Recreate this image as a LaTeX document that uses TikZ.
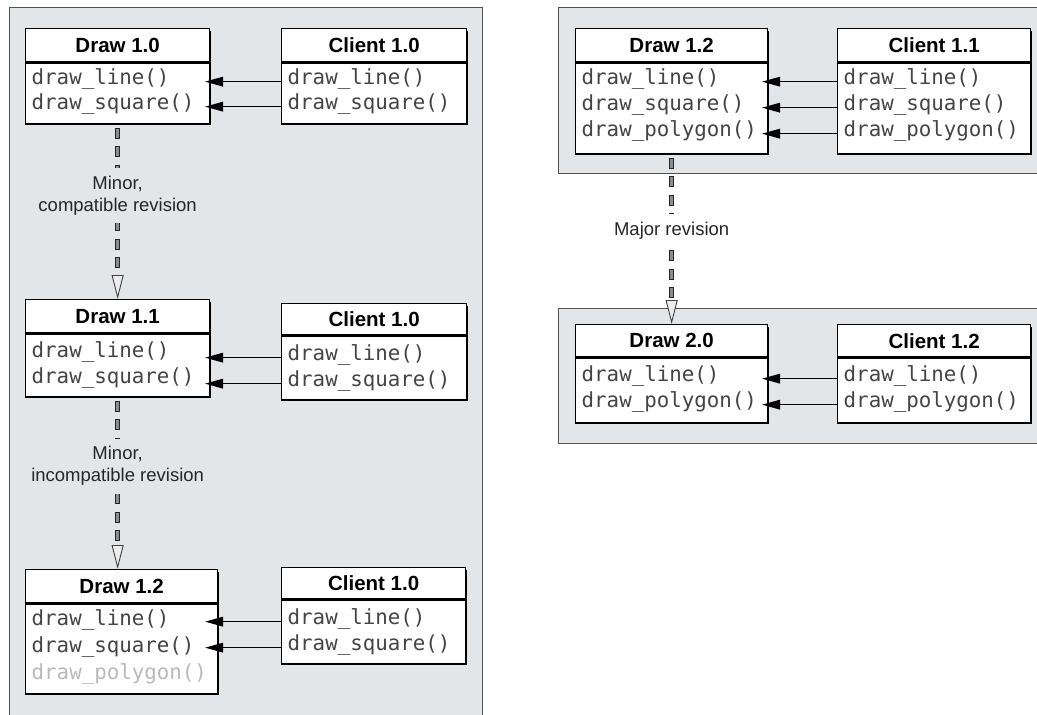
\documentclass[tikz,border=0pt]{standalone}
\usepackage{fontspec}
\setmainfont{Liberation Sans}
\newfontfamily\codefont{DejaVu Sans Mono}
\usetikzlibrary{arrows.meta,calc}
\definecolor{panelbg}{HTML}{E2E6E9}
\definecolor{panelline}{HTML}{505050}
\definecolor{codegray}{HTML}{444444}
\newcommand{\umlbox}[7]{%
  \fill[black] (#2+1.5,#3+2.5) rectangle (#2+#4+1.5,#3+#5+#6+2.5);
  \node[hdr, minimum width=#4pt, minimum height=#5pt, anchor=north west] (#1h) at (#2,#3) {#7};
  \node[bdy, minimum width=#4pt, minimum height=#6pt, anchor=north west] (#1b) at (#1h.south west) {};
}
\begin{document}
\begin{tikzpicture}[x=1pt,y=-1pt,
  panel/.style={fill=panelbg, draw=panelline, line width=1pt},
  hdr/.style={draw=black, fill=white, line width=1.3pt, inner sep=0pt, font=\fontsize{20.5}{24}\selectfont\bfseries, text depth=0pt},
  bdy/.style={draw=black, fill=white, line width=1.3pt, inner sep=0pt},
  row/.style={inner sep=0pt, anchor=base west, font=\codefont\fontsize{20.8}{26}\selectfont, text=codegray},
  ghost/.style={row, text=gray!55},
  call/.style={line width=1.6pt, -{Triangle[length=18pt,width=9.5pt]}},
  rev/.style={draw=black!45, line width=3.5pt, dash pattern=on 9pt off 9.5pt, dash phase=14.5pt,
    preaction={draw=black!85, line width=5.5pt, dash pattern=on 11pt off 7.5pt, dash phase=15.5pt, arrows=-, shorten >=24pt},
    -{Triangle[length=24pt,width=12pt,line width=0.9pt,fill=gray!15,color=black!75]}},
  lbl/.style={fill=panelbg, inner xsep=3pt, inner ysep=8pt, align=center, font=\fontsize{18.5}{22}\selectfont, text=black!85},
]
\useasboundingbox (0,0) rectangle (1037,715);
\clip (0,0) rectangle (1037,715);

% panels
\draw[panel] (9,7) rectangle (482,740);
\draw[panel] (558,7) rectangle (1050,173);
\draw[panel] (558,308) rectangle (1050,443);

\coordinate (tipL) at (205,0);
\coordinate (tipR) at (762,0);

% ---- left column, top
\umlbox{dA}{25}{28}{184}{33}{61}{Draw 1.0}
\node[row] (dA1) at ($(dAb.north west)+(6.5,22)$) {draw\_line()};
\node[row] (dA2) at ($(dAb.north west)+(6.5,47)$) {draw\_square()};
\umlbox{cA}{281}{28}{185}{33}{61}{Client 1.0}
\node[row] (cA1) at ($(cAb.north west)+(6.5,22)$) {draw\_line()};
\node[row] (cA2) at ($(cAb.north west)+(6.5,47)$) {draw\_square()};

% ---- left column, middle
\umlbox{dB}{25}{299}{184}{33}{63}{Draw 1.1}
\node[row] (dB1) at ($(dBb.north west)+(6.5,24)$) {draw\_line()};
\node[row] (dB2) at ($(dBb.north west)+(6.5,50)$) {draw\_square()};
\umlbox{cB}{281}{303}{185}{31}{64}{Client 1.0}
\node[row] (cB1) at ($(cBb.north west)+(6.5,25)$) {draw\_line()};
\node[row] (cB2) at ($(cBb.north west)+(6.5,51)$) {draw\_square()};

% ---- left column, bottom
\umlbox{dC}{25}{569}{192}{33}{90}{Draw 1.2}
\node[row] (dC1) at ($(dCb.north west)+(6.5,22)$) {draw\_line()};
\node[row] (dC2) at ($(dCb.north west)+(6.5,49)$) {draw\_square()};
\node[ghost] (dC3) at ($(dCb.north west)+(6.5,76)$) {draw\_polygon()};
\umlbox{cC}{281}{567}{184}{31}{64}{Client 1.0}
\node[row] (cC1) at ($(cCb.north west)+(6.5,25)$) {draw\_line()};
\node[row] (cC2) at ($(cCb.north west)+(6.5,51)$) {draw\_square()};

% ---- right column, top
\umlbox{dR}{575}{28}{192}{33}{91}{Draw 1.2}
\node[row] (dR1) at ($(dRb.north west)+(6.5,22)$) {draw\_line()};
\node[row] (dR2) at ($(dRb.north west)+(6.5,48)$) {draw\_square()};
\node[row] (dR3) at ($(dRb.north west)+(6.5,74)$) {draw\_polygon()};
\umlbox{cR}{837}{28}{193}{33}{91}{Client 1.1}
\node[row] (cR1) at ($(cRb.north west)+(6.5,22)$) {draw\_line()};
\node[row] (cR2) at ($(cRb.north west)+(6.5,48)$) {draw\_square()};
\node[row] (cR3) at ($(cRb.north west)+(6.5,74)$) {draw\_polygon()};

% ---- right column, bottom
\umlbox{dS}{575}{324}{192}{32}{65}{Draw 2.0}
\node[row] (dS1) at ($(dSb.north west)+(6.5,24)$) {draw\_line()};
\node[row] (dS2) at ($(dSb.north west)+(6.5,50)$) {draw\_polygon()};
\umlbox{cS}{837}{324}{193}{32}{65}{Client 1.2}
\node[row] (cS1) at ($(cSb.north west)+(6.5,24)$) {draw\_line()};
\node[row] (cS2) at ($(cSb.north west)+(6.5,50)$) {draw\_polygon()};

% ---- call arrows
\draw[call] (cA1.mid west -| cAb.west) -- (cA1.mid west -| tipL);
\draw[call] (cA2.mid west -| cAb.west) -- (cA2.mid west -| tipL);
\draw[call] (cB1.mid west -| cBb.west) -- (cB1.mid west -| tipL);
\draw[call] (cB2.mid west -| cBb.west) -- (cB2.mid west -| tipL);
\draw[call] (cC1.mid west -| cCb.west) -- (cC1.mid west -| tipL);
\draw[call] (cC2.mid west -| cCb.west) -- (cC2.mid west -| tipL);
\draw[call] (cR1.mid west -| cRb.west) -- (cR1.mid west -| tipR);
\draw[call] (cR2.mid west -| cRb.west) -- (cR2.mid west -| tipR);
\draw[call] (cR3.mid west -| cRb.west) -- (cR3.mid west -| tipR);
\draw[call] (cS1.mid west -| cSb.west) -- (cS1.mid west -| tipR);
\draw[call] (cS2.mid west -| cSb.west) -- (cS2.mid west -| tipR);

% ---- revision connectors
\draw[rev] (dAb.south) -- (dBh.north) node[lbl, pos=0.405] {Minor,\\compatible revision};
\draw[rev] (dBb.south) -- (dBb.south |- dCh.north) node[lbl, pos=0.40] {Minor,\\incompatible revision};
\draw[rev] (dRb.south) -- (dSh.north) node[lbl, fill=white, pos=0.45] {Major revision};
\end{tikzpicture}
\end{document}
